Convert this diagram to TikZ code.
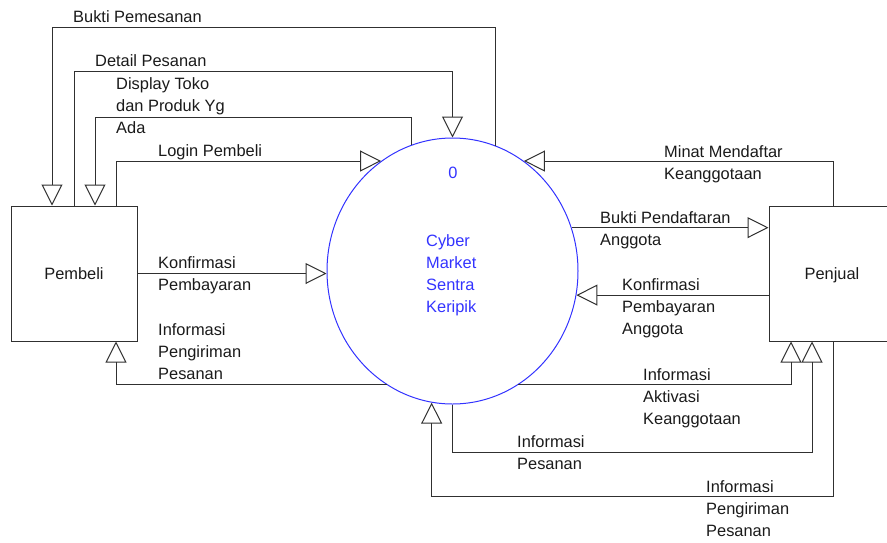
\documentclass[tikz,border=0pt]{standalone}
\usepackage{fontspec}
\setmainfont{Liberation Sans}
\usetikzlibrary{shapes.geometric, arrows.meta, positioning, calc}
\definecolor{flowline}{HTML}{303030}
\definecolor{procblue}{HTML}{3333FF}
\definecolor{labelgray}{HTML}{1A1A1A}

\begin{document}
\begin{tikzpicture}[
  x=1pt, y=-1pt,
  entity/.style={rectangle, draw=flowline, line width=1pt, minimum width=126pt, minimum height=135pt, inner sep=0pt, font=\fontsize{16.4}{22}\selectfont, text=labelgray, text height=12pt, text depth=0pt},
  proc/.style={ellipse, draw=procblue, line width=1pt, minimum width=251pt, minimum height=266pt, inner sep=0pt},
  proctext/.style={font=\fontsize{16.4}{22}\selectfont, text=procblue, align=left, inner sep=0pt},
  lbl/.style={font=\fontsize{16.4}{22}\selectfont, text=labelgray, align=left, inner sep=0pt, anchor=base west},
  arr/.style={-{Triangle[open, length=21pt, width=21pt]}, line width=1pt, color=flowline}
]
\useasboundingbox (0,0) rectangle (887,542);
\clip (0,0) rectangle (887,542);

% Entities and process
\node[entity] (pembeli) at (74,273.5) {Pembeli};
\node[entity] (penjual) at (832,273.5) {Penjual};
\node[proc] (cyber) at (452.5,271) {};
\node[proctext, anchor=base] (procnum) at (453,178) {0};
\node[proctext, anchor=base west] (procname) at (426,312) {Cyber\\Market\\Sentra\\Keripik};

% Bend points
\coordinate (bpem) at (52,27);
\coordinate (dpes) at (74,71);
\coordinate (dtok) at (95,117);
\coordinate (lpem) at (116,162);
\coordinate (iakt) at (791,384);
\coordinate (ipes) at (812,452);
\coordinate (ipeng) at (833,496);

% Pembeli flows
\draw[arr] (cyber.71) |- (bpem) -- (bpem |- pembeli.north);
\draw[arr] (pembeli.north -| dpes) |- (dpes -| cyber.north) -- (cyber.north);
\draw[arr] (cyber.108) |- (dtok) -- (dtok |- pembeli.north);
\draw[arr] (pembeli.north -| lpem) |- (cyber.123);
\draw[arr] (pembeli.east) -- (pembeli.east -| cyber.west);
\draw[arr] (cyber.240) -| (pembeli.south -| lpem);

% Penjual flows
\draw[arr] (penjual.north -| ipeng) |- (cyber.57);
\draw[arr] (cyber.20) -- (cyber.20 -| penjual.west);
\draw[arr] (cyber.349 -| penjual.west) -- (cyber.349);
\draw[arr] (cyber.300) -| (penjual.south -| iakt);
\draw[arr] (cyber.south) |- (ipes) -- (penjual.south -| ipes);
\draw[arr] (penjual.south -| ipeng) |- (ipeng -| cyber.261) -- (cyber.261);

% Labels (anchored at last baseline)
\node[lbl] (t-bpem) at (73,22) {Bukti Pemesanan};
\node[lbl] (t-dpes) at (95,66) {Detail Pesanan};
\node[lbl] (t-dtok) at (116,133) {Display Toko\\dan Produk Yg\\Ada};
\node[lbl] (t-lpem) at (158,156) {Login Pembeli};
\node[lbl] (t-kpem) at (158,290) {Konfirmasi\\Pembayaran};
\node[lbl] (t-ipem) at (158,379) {Informasi\\Pengiriman\\Pesanan};
\node[lbl] (t-minat) at (664,179) {Minat Mendaftar\\Keanggotaan};
\node[lbl] (t-bpen) at (600,245) {Bukti Pendaftaran\\Anggota};
\node[lbl] (t-kang) at (622,334) {Konfirmasi\\Pembayaran\\Anggota};
\node[lbl] (t-iakt) at (643,424) {Informasi\\Aktivasi\\Keanggotaan};
\node[lbl] (t-ipes) at (517,469) {Informasi\\Pesanan};
\node[lbl] (t-ipeng) at (706,536) {Informasi\\Pengiriman\\Pesanan};

\end{tikzpicture}
\end{document}
